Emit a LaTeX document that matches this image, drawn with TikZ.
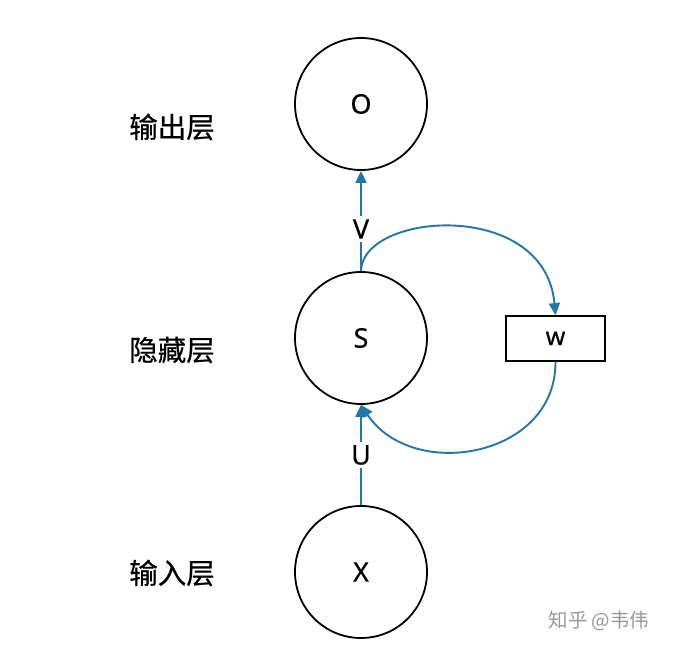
\documentclass[tikz,border=0pt]{standalone}
\usepackage{fontspec}
\setmainfont{Noto Sans}[FakeBold=0.4]
\newfontfamily\cjk{Noto Sans CJK SC}[FakeBold=0.5]
\newfontfamily\cjkmark{Noto Sans CJK SC}
\usetikzlibrary{arrows.meta}
\definecolor{flow}{HTML}{2277A8}
\begin{document}
\begin{tikzpicture}[x=1pt,y=-1pt,
 neuron/.style={circle,draw=black,line width=1.8pt,minimum size=132pt,inner sep=0pt,font=\fontsize{27}{29}\selectfont},
 wbox/.style={draw=black,line width=1.8pt,minimum width=99pt,minimum height=45pt,inner sep=0pt,font=\fontsize{25}{27}\selectfont},
 layer/.style={font=\cjk\fontsize{28.5}{30}\selectfont},
 link/.style={draw=flow,line width=1.9pt,-{Triangle[length=12pt,width=11pt]}},
 lab/.style={fill=white,inner sep=3pt,font=\fontsize{27}{29}\selectfont}]
\useasboundingbox[fill=white] (0,0) rectangle (689,655);
\node[neuron] (O) at (361,104) {O};
\node[neuron] (S) at (361,338) {S};
\node[neuron] (X) at (361,572) {X};
\node[wbox] (w) at (555.5,338.5) {w};
\node[layer] (lo) at (172,127) {输出层};
\node[layer] (lh) at (172,350) {隐藏层};
\node[layer] (li) at (172,573) {输入层};
\path[link] (S.north) -- node[lab,pos=0.42] (v) {V} (O.south);
\path[link] (X.north) -- node[lab,pos=0.5] (u) {U} (S.south);
\draw[link] (S.north) .. controls (362,212) and (545,198) .. (w.north);
\draw[link] (w.south) .. controls (556,458) and (412,482) .. (S.south);
\node[font=\cjkmark\fontsize{19.5}{20}\selectfont,text=black!40] (wm) at (599,621) {知乎 @韦伟};
\end{tikzpicture}
\end{document}
